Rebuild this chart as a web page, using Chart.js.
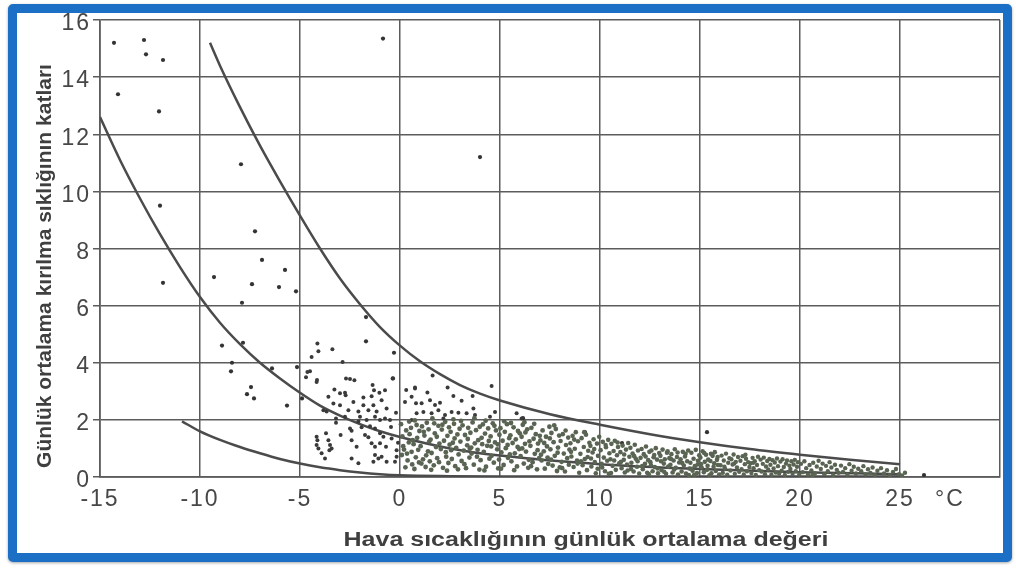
<!DOCTYPE html>
<html>
<head>
<meta charset="utf-8">
<script src="https://cdn.jsdelivr.net/npm/chart.js@4/dist/chart.umd.min.js"></script>
<style>
  html, body { margin: 0; padding: 0; background: #fff; }
  #frame {
    position: absolute; left: 8px; top: 4px; width: 1004px; height: 558px;
    box-sizing: border-box; border: 9px solid #1b70c6; border-radius: 5px;
    background: #fff; box-shadow: 0 1px 3px rgba(0,0,0,0.35);
  }
  #wrap { position: absolute; left: 0; top: 0; width: 1016px; height: 574px; }
</style>
</head>
<body>
<div id="frame"></div>
<div id="wrap"><canvas id="chart"></canvas></div>
<script>
// axis texts
const xTitle = 'Hava sıcaklığının günlük ortalama değeri';
const yTitle = 'Günlük ortalama kırılma sıklığının katları';
const xLabelValues = [-15, -10, -5, 0, 5, 10, 15, 20, 25];
const unitLabel = '°C';

// the three envelope curves [temperature, multiple]
const upperCurve = [[-9.5,15.2],[-9,14.4],[-8,12.95],[-7,11.6],[-6,10.35],[-5,9.15],[-4,8.0],[-3,6.95],[-2,6.05],
  [-1,5.25],[0,4.6],[1,4.05],[2,3.6],[3,3.22],[4,2.92],[5,2.68],[7.5,2.2],[10,1.83],[12.5,1.5],[15,1.22],
  [17.5,0.98],[20,0.78],[22.5,0.6],[25,0.45]];
const meanCurve = [[-15,12.6],[-14,11.1],[-13,9.75],[-12,8.5],[-11,7.35],[-10,6.3],[-9,5.4],[-8,4.65],[-7,4.0],
  [-6,3.45],[-5,2.95],[-4,2.5],[-3,2.15],[-2,1.85],[-1,1.6],[0,1.4],[2.5,1.0],[5,0.75],[10,0.45],[15,0.28],
  [20,0.17],[25,0.1]];
const lowerCurve = [[-10.9,1.95],[-10,1.6],[-9,1.3],[-8,1.05],[-7,0.83],[-6,0.63],[-5,0.47],[-4,0.34],[-3,0.24],
  [-2,0.16],[-1,0.1],[0,0.06],[2.5,0.03],[5,0.02],[25,0.02]];

// isolated observations
const outlierPts = [[-14.3,15.2],[-12.8,15.3],[-12.7,14.8],[-11.85,14.6],[-14.1,13.4],[-12.05,12.8],[-0.85,15.35],
  [-7.95,10.95],[-12.0,9.5],[-7.25,8.6],[-6.9,7.6],[-5.75,7.25],[-11.85,6.8],[-9.3,7.0],[-7.4,6.75],[-6.05,6.65],
  [-5.2,6.5],[-7.9,6.1],[4.0,11.2],[-1.7,5.6],[-8.9,4.6],[-7.85,4.7],[-1.7,4.75],[-0.3,4.35],[-8.4,4.0],[-8.45,3.7],
  [-6.4,3.8],[-5.15,3.85],[-7.45,3.15],[-7.65,2.9],[-7.3,2.75],[-5.65,2.5],[-4.9,2.75],[-0.35,3.45],
  [9.25,1.57],[11.1,1.19],[6.15,2.06],[15.35,1.57],[26.2,0.07]];

// scattered cloud between -5 and 0
const westPts = [[-4.13,4.67],[-4.08,4.4],[-4.42,4.2],[-3.38,4.47],[-2.87,4.03],[-4.63,3.68],[-4.7,3.49],[-4.17,3.33],
  [-2.7,3.45],[-2.5,3.43],[-2.28,3.39],[-3.28,3.06],[-1.37,3.22],[-1.3,3.04],[-1.03,2.95],[-0.75,3.04],[-0.37,3.45],
  [-3,2.93],[-2.75,2.95],[-2.72,2.86],[-3.58,2.81],[-1.83,2.78],[-1.42,2.83],[-2.33,2.63],[-3.33,2.57],[-3,2.51],
  [-3.83,2.34],[-3.67,2.29],[-1.83,2.51],[-1.33,2.51],[-0.92,2.69],[-0.67,2.4],[-2.58,2.34],[-2.08,2.29],[-1.58,2.34],
  [-1.17,2.29],[-3.2,2.05],[-3.2,1.9],[-2.75,2.11],[-2,2.11],[-2.08,1.94],[-1.67,2.0],[-1.25,2.11],[-1,2.0],[-0.75,2.05],
  [-0.5,2.0],[-2.5,1.7],[-2.42,1.62],[-1.92,1.74],[-1.5,1.78],[-1.25,1.7],[-3.7,1.53],[-2.97,1.47],[-1.75,1.47],
  [-1.58,1.39],[-1,1.53],[-0.83,1.41],[-0.42,1.35],[-4.17,1.41],[-4.13,1.29],[-4.17,1.12],[-4.08,1.0],[-3.58,1.29],
  [-3.5,1.12],[-3.42,1.0],[-3.53,0.94],[-3.92,0.83],[-3.75,0.65],[-2.42,1.29],[-2.17,1.06],[-1.42,1.18],[-1.25,1.06],
  [-1,1.18],[-0.7,1.06],[-2.42,0.65],[-2.08,0.48],[-1.25,0.77],[-1.08,0.65],[-0.92,0.71],[-1.33,0.53],[-0.67,0.53],
  [-0.17,0.94],[-0.17,0.71],[-0.25,0.53],[-4.5,3.7],[-4.15,3.4],[-0.2,2.25],[-0.45,1.75],[-0.1,1.2]];

// points above the dense band, 0..6
const risePts = [[1.63,3.55],[0.75,3.13],[2.38,3.13],[4.58,3.19],[1.37,2.96],[0.58,2.81],[2.67,2.84],[3.63,2.84],
  [0.8,2.58],[1.08,2.58],[1.5,2.69],[1.75,2.52],[2,2.6],[3.08,2.67],[0.83,2.23],[1.17,2.28],[1.58,2.23],[1.92,2.34],
  [2.25,2.17],[2.58,2.28],[2.92,2.25],[3.33,2.23],[3.67,2.4],[3.75,2.17],[4.5,2.11],[4.75,2.28],[5.83,2.23],[6.08,2.05],
  [2.17,2.05],[0.58,2.0],[0.31,3.05],[0.75,3.1],[0.25,2.63]];

// dense band
const bandA = [[0.05,1.85],[0.12,1.42],[0.2,0.96],[0.31,1.63],[0.38,0.58],[0.44,1.21],[0.27,0.34],[0.09,0.77],[0.46,1.94],[0.16,1.08],[0.35,0.82],[0.48,1.5],
  [0.55,1.72],[0.61,0.44],[0.68,1.15],[0.74,1.98],[0.79,0.69],[0.86,1.37],[0.91,0.95],[0.97,1.61],[0.58,0.88],[0.72,0.28],[0.83,1.82],[0.95,0.51],[0.64,1.29],
  [1.03,1.08],[1.1,1.77],[1.15,0.62],[1.22,1.45],[1.28,0.35],[1.34,1.9],[1.4,0.9],[1.46,1.24],[1.07,0.47],[1.19,1.58],[1.31,0.76],[1.43,1.67],[1.49,0.55],
  [1.53,1.31],[1.58,0.84],[1.62,2.05],[1.69,0.41],[1.74,1.53],[1.8,1.05],[1.86,0.66],[1.92,1.79],[1.97,1.17],[1.56,0.25],[1.71,1.88],[1.84,1.41],[1.95,0.52],
  [2.04,0.98],[2.09,1.66],[2.15,0.32],[2.2,1.27],[2.26,1.93],[2.31,0.71],[2.37,1.44],[2.42,0.49],[2.48,1.13],[2.12,1.83],[2.29,0.87],[2.45,1.74],[2.35,0.22],
  [2.53,1.58],[2.59,0.63],[2.64,1.2],[2.7,1.86],[2.76,0.38],[2.81,1.02],[2.87,1.49],[2.93,0.79],[2.98,1.69],[2.56,0.94],[2.73,1.35],[2.9,0.27],[2.67,2.02],
  [3.02,1.24],[3.08,0.56],[3.13,1.81],[3.19,0.92],[3.25,1.47],[3.3,0.31],[3.36,1.11],[3.41,1.72],[3.47,0.68],[3.05,1.96],[3.22,0.45],[3.39,1.33],[3.49,0.99],
  [3.52,1.55],[3.58,0.82],[3.63,1.91],[3.69,0.43],[3.74,1.18],[3.8,1.64],[3.85,0.71],[3.91,1.29],[3.97,0.26],[3.56,1.03],[3.72,2.06],[3.88,0.95],[3.99,1.76]];
const bandB = [[4.03,0.59],[4.08,1.37],[4.14,1.84],[4.19,0.88],[4.25,1.52],[4.3,0.36],[4.36,1.09],[4.41,1.7],[4.47,0.64],[4.11,1.15],[4.28,1.97],[4.44,1.26],[4.22,0.23],
  [4.53,1.42],[4.58,0.74],[4.64,1.88],[4.69,0.5],[4.75,1.21],[4.8,1.63],[4.86,0.97],[4.91,0.3],[4.97,1.48],[4.56,1.07],[4.72,1.79],[4.89,1.14],[4.95,0.61],
  [5.02,1.71],[5.07,0.86],[5.13,1.27],[5.18,0.42],[5.24,1.58],[5.29,1.01],[5.35,1.85],[5.4,0.67],[5.46,1.36],[5.05,0.29],[5.21,1.95],[5.38,1.12],[5.49,0.79],
  [5.52,1.46],[5.57,0.55],[5.63,1.19],[5.68,1.74],[5.74,0.83],[5.79,1.32],[5.85,0.37],[5.9,1.61],[5.96,0.98],[5.55,1.89],[5.71,0.24],[5.88,1.05],[5.99,1.53],
  [6.03,0.73],[6.08,1.41],[6.14,1.83],[6.19,0.47],[6.25,1.16],[6.3,0.89],[6.36,1.67],[6.41,0.32],[6.47,1.25],[6.11,1.0],[6.27,1.56],[6.44,0.6],[6.22,1.92],
  [6.52,1.09],[6.57,1.72],[6.63,0.52],[6.68,1.34],[6.74,0.81],[6.79,1.5],[6.85,0.27],[6.9,1.17],[6.96,0.66],[6.55,0.38],[6.71,1.86],[6.88,0.94],[6.99,1.44],
  [7.02,1.28],[7.08,0.58],[7.13,1.63],[7.19,0.9],[7.24,0.29],[7.3,1.41],[7.35,1.07],[7.41,0.46],[7.47,1.76],[7.05,0.78],[7.21,1.19],[7.38,0.68],[7.49,1.35],
  [7.52,0.97],[7.57,1.54],[7.63,0.4],[7.68,1.22],[7.74,0.74],[7.79,1.68],[7.85,0.21],[7.9,1.03],[7.96,1.45],[7.55,0.61],[7.71,1.81],[7.88,0.85],[7.99,0.34]];
const bandC = [[8.03,1.26],[8.08,0.53],[8.14,1.5],[8.19,0.82],[8.25,0.19],[8.3,1.12],[8.36,0.66],[8.41,1.38],[8.47,0.96],[8.11,0.31],[8.28,1.63],[8.44,0.43],
  [8.52,1.18],[8.57,0.72],[8.63,1.44],[8.68,0.35],[8.74,0.99],[8.79,1.57],[8.85,0.58],[8.9,1.25],[8.96,0.15],[8.55,0.88],[8.71,1.31],[8.88,0.47],
  [9.02,0.81],[9.08,1.36],[9.13,0.41],[9.19,1.05],[9.24,0.63],[9.3,1.48],[9.35,0.24],[9.41,0.92],[9.47,1.2],[9.05,0.55],[9.21,1.57],[9.38,0.7],
  [9.52,1.09],[9.57,0.37],[9.63,0.86],[9.68,1.32],[9.74,0.52],[9.79,0.13],[9.85,1.17],[9.9,0.74],[9.96,1.41],[9.55,0.65],[9.71,0.98],[9.88,0.29],
  [10.03,0.94],[10.08,0.46],[10.14,1.23],[10.19,0.68],[10.25,0.2],[10.3,1.04],[10.36,0.57],[10.41,1.3],[10.47,0.83],[10.11,0.33],[10.28,1.12],[10.44,0.11],
  [10.52,0.62],[10.57,1.16],[10.63,0.39],[10.68,0.91],[10.74,1.27],[10.79,0.25],[10.85,0.76],[10.9,1.05],[10.96,0.48],[10.55,0.14],[10.71,0.58],[10.88,1.21],
  [11.02,0.87],[11.08,0.31],[11.13,1.1],[11.19,0.6],[11.24,0.16],[11.3,0.96],[11.35,0.44],[11.41,1.19],[11.47,0.71],[11.05,0.53],[11.21,0.79],[11.38,0.23],
  [11.52,1.02],[11.57,0.5],[11.63,0.82],[11.68,0.19],[11.74,1.13],[11.79,0.64],[11.85,0.36],[11.9,0.93],[11.96,0.12],[11.55,0.28],[11.71,0.73],[11.88,0.55]];
const bandD = [[12.03,0.67],[12.08,0.98],[12.14,0.27],[12.19,0.8],[12.25,0.46],[12.3,1.07],[12.36,0.15],[12.41,0.59],[12.47,0.88],[12.11,0.38],[12.28,0.72],[12.44,0.1],
  [12.52,0.52],[12.57,0.93],[12.63,0.2],[12.68,0.69],[12.74,0.35],[12.79,1.01],[12.85,0.61],[12.9,0.13],[12.96,0.84],[12.55,0.41],[12.71,0.77],[12.88,0.3],
  [13.02,0.74],[13.08,0.24],[13.13,0.96],[13.19,0.47],[13.24,0.62],[13.3,0.11],[13.35,0.85],[13.41,0.37],[13.47,0.66],[13.05,0.55],[13.21,0.18],[13.38,0.9],
  [13.52,0.43],[13.57,0.8],[13.63,0.16],[13.68,0.58],[13.74,0.97],[13.79,0.32],[13.85,0.7],[13.9,0.09],[13.96,0.51],[13.55,0.63],[13.71,0.26],[13.88,0.86],
  [14.03,0.62],[14.08,0.19],[14.14,0.88],[14.19,0.4],[14.25,0.72],[14.3,0.12],[14.36,0.55],[14.41,0.93],[14.47,0.3],[14.11,0.49],[14.28,0.81],[14.44,0.07],
  [14.52,0.5],[14.57,0.85],[14.63,0.22],[14.68,0.64],[14.74,0.38],[14.79,0.95],[14.85,0.14],[14.9,0.57],[14.96,0.76],[14.55,0.29],[14.71,0.08],[14.88,0.44],
  [15.02,0.68],[15.08,0.33],[15.13,0.9],[15.19,0.17],[15.24,0.53],[15.3,0.78],[15.35,0.25],[15.41,0.61],[15.47,0.06],[15.05,0.45],[15.21,0.84],[15.38,0.39],
  [15.52,0.56],[15.57,0.13],[15.63,0.74],[15.68,0.36],[15.74,0.87],[15.79,0.21],[15.85,0.6],[15.9,0.42],[15.96,0.09],[15.55,0.81],[15.71,0.48],[15.88,0.7]];
const bandE = [[16.03,0.41],[16.08,0.75],[16.14,0.15],[16.19,0.58],[16.25,0.29],[16.3,0.82],[16.36,0.08],[16.41,0.5],[16.47,0.66],[16.22,0.36],
  [16.52,0.23],[16.57,0.62],[16.63,0.44],[16.68,0.79],[16.74,0.11],[16.79,0.53],[16.85,0.33],[16.9,0.7],[16.96,0.18],[16.71,0.47],
  [17.02,0.57],[17.08,0.27],[17.13,0.73],[17.19,0.09],[17.24,0.45],[17.3,0.64],[17.35,0.2],[17.41,0.52],[17.47,0.35],[17.27,0.78],
  [17.52,0.48],[17.57,0.14],[17.63,0.67],[17.68,0.31],[17.74,0.55],[17.79,0.07],[17.85,0.42],[17.9,0.71],[17.96,0.24],[17.66,0.5],
  [18.03,0.61],[18.08,0.19],[18.14,0.46],[18.19,0.68],[18.25,0.1],[18.3,0.37],[18.36,0.56],[18.41,0.26],[18.47,0.63],
  [18.52,0.43],[18.57,0.08],[18.63,0.59],[18.68,0.3],[18.74,0.51],[18.79,0.16],[18.85,0.65],[18.9,0.38],[18.96,0.12],
  [19.02,0.54],[19.08,0.22],[19.13,0.62],[19.19,0.35],[19.24,0.07],[19.3,0.47],[19.35,0.58],[19.41,0.18],[19.47,0.4],
  [19.52,0.28],[19.57,0.55],[19.63,0.11],[19.68,0.44],[19.74,0.6],[19.79,0.2],[19.85,0.36],[19.9,0.52],[19.96,0.09],
  [20.05,0.46],[20.14,0.17],[20.22,0.55],[20.31,0.31],[20.4,0.08],[20.48,0.42],[20.57,0.23],[20.66,0.5],[20.75,0.13],[20.84,0.37],[20.93,0.57],[20.62,0.06],
  [21.04,0.28],[21.13,0.47],[21.22,0.1],[21.3,0.39],[21.39,0.2],[21.48,0.52],[21.57,0.33],[21.66,0.07],[21.75,0.43],[21.84,0.25],[21.93,0.15],
  [22.05,0.4],[22.15,0.18],[22.26,0.31],[22.37,0.08],[22.47,0.45],[22.58,0.22],[22.69,0.36],[22.8,0.12],[22.91,0.29],
  [23.06,0.2],[23.17,0.38],[23.28,0.09],[23.4,0.27],[23.52,0.14],[23.63,0.33],[23.75,0.06],[23.87,0.22],
  [24.05,0.31],[24.2,0.12],[24.35,0.24],[24.5,0.06],[24.65,0.18],[24.8,0.28],[24.95,0.1],[25.1,0.05],[25.25,0.15]];

const ink = '#474747';
const gridInk = '#5c5c5c';
const bandInk = '#5a6453';
const toXY = pts => pts.map(p => ({ x: p[0], y: p[1] }));

function curveSet(pts) {
    return {
        type: 'line', data: toXY(pts), borderColor: '#4b4b4b', borderWidth: 2.5,
        pointRadius: 0, fill: false, cubicInterpolationMode: 'monotone'
    };
}
function dotSet(pts, color, r) {
    return { type: 'scatter', data: toXY(pts), backgroundColor: color, borderWidth: 0, pointRadius: r };
}

// scanned figure is a bit stretched sideways: widen the lettering, place the axis titles
const scanLook = {
    id: 'scanLook',
    beforeDraw(chart) { chart.ctx.letterSpacing = '2px'; },
    afterDraw(chart) {
        const ctx = chart.ctx;
        ctx.letterSpacing = '0px';
        ctx.save();
        ctx.fillStyle = '#3f3f3f';
        ctx.font = 'bold 20px "Liberation Sans", Arial, sans-serif';
        ctx.textAlign = 'center';
        ctx.textBaseline = 'middle';
        ctx.save();
        ctx.translate(586, 540);
        ctx.scale(1.25, 1);
        ctx.fillText(xTitle, 0, 0);
        ctx.restore();
        ctx.font = 'bold 21px "Liberation Sans", Arial, sans-serif';
        ctx.translate(45, 266);
        ctx.rotate(-Math.PI / 2);
        ctx.fillText(yTitle, 0, 0);
        ctx.restore();
    }
};

new Chart(document.getElementById('chart'), {
    data: {
        datasets: [
            dotSet(bandA, bandInk, 2.4), dotSet(bandB, bandInk, 2.4), dotSet(bandC, bandInk, 2.3),
            dotSet(bandD, bandInk, 2.3), dotSet(bandE, bandInk, 2.2),
            dotSet(westPts, '#3a3a3a', 2), dotSet(risePts, '#3a3a3a', 2), dotSet(outlierPts, '#333', 2.1),
            curveSet(upperCurve), curveSet(meanCurve), curveSet(lowerCurve)
        ]
    },
    options: {
        responsive: true,
        maintainAspectRatio: false,
        animation: false,
        devicePixelRatio: 1,
        layout: { padding: { left: 0, top: 20, right: 16, bottom: 0 } },
        plugins: { legend: { display: false }, tooltip: { enabled: false } },
        scales: {
            x: {
                type: 'linear', min: -15, max: 30,
                afterFit: s => { s.height = 97; },
                grid: {
                    drawTicks: false, lineWidth: 1.5,
                    color: c => (c.tick && c.tick.value % 5 === 0) ? gridInk : 'rgba(0,0,0,0)'
                },
                border: { color: gridInk, width: 1.7 },
                ticks: {
                    stepSize: 2.5, autoSkip: false, maxRotation: 0, padding: 9,
                    color: ink, font: { family: '"Liberation Sans", Arial, sans-serif', size: 23 },
                    callback: v => xLabelValues.includes(v) ? String(v) : (v === 27.5 ? unitLabel : '')
                }
            },
            y: {
                type: 'linear', min: 0, max: 16,
                afterFit: s => { s.width = 100; },
                grid: { color: gridInk, lineWidth: 1.5, tickLength: 7 },
                border: { color: gridInk, width: 1.7 },
                ticks: {
                    stepSize: 2, padding: 2, labelOffset: 4,
                    color: ink, font: { family: '"Liberation Sans", Arial, sans-serif', size: 23 }
                }
            }
        }
    },
    plugins: [scanLook]
});
</script>
</body>
</html>
